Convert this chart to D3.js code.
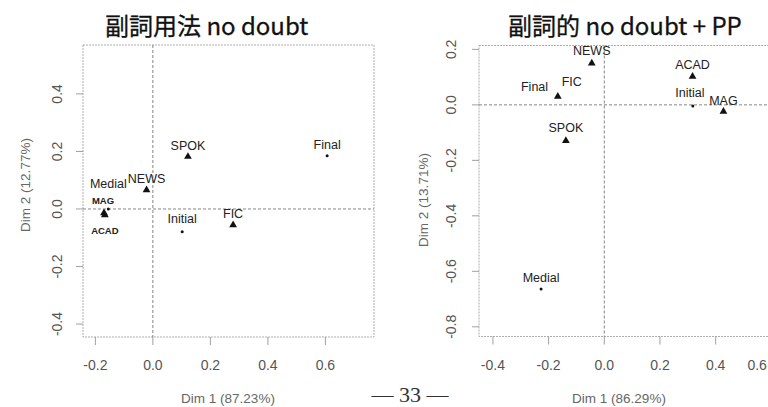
<!DOCTYPE html>
<html>
<head>
<meta charset="utf-8">
<script src="https://cdn.jsdelivr.net/npm/d3@7/dist/d3.min.js"></script>
<style>
  html, body { margin: 0; padding: 0; background: #fff; }
  svg { display: block; }
  .tick-label { font-family: "Liberation Sans", Arial, sans-serif; font-size: 14px; fill: #555; }
  .axis-title { font-family: "Liberation Sans", Arial, sans-serif; font-size: 13.5px; fill: #666; }
  .pt-label { font-family: "Liberation Sans", Arial, sans-serif; font-size: 12.5px; fill: #222; }
  .title { font-family: "Noto Sans CJK JP", "Noto Sans", sans-serif; font-size: 24px; fill: #111; stroke: #111; stroke-width: 0.3px; }
</style>
</head>
<body>
<svg id="chart" width="768" height="407"></svg>
<script>
// ---- Panel A: 副詞用法 no doubt (CA of genre x position) ----
const genresA   = ["SPOK", "NEWS", "FIC", "ACAD", "MAG"];
const genreXA   = [0.122, -0.022, 0.279, -0.167, -0.170];
const genreYA   = [0.182, 0.066, -0.056, -0.021, -0.014];
const posA      = ["Final", "Initial", "Medial"];
const posXA     = [0.606, 0.102, -0.155];
const posYA     = [0.185, -0.079, 0.000];
const inertiaA  = ["87.23%", "12.77%"];
const xTicksA   = [-0.2, 0.0, 0.2, 0.4, 0.6];
const yTicksA   = [-0.4, -0.2, 0.0, 0.2, 0.4];

// ---- Panel B: 副詞的 no doubt + PP ----
const genresB   = ["NEWS", "ACAD", "FIC", "MAG", "SPOK"];
const genreXB   = [-0.045, 0.317, -0.167, 0.428, -0.138];
const genreYB   = [0.150, 0.102, 0.030, -0.024, -0.129];
const posB      = ["Final", "Initial", "Medial"];
const posXB     = [-0.168, 0.318, -0.227];
const posYB     = [0.030, -0.004, -0.664];
const inertiaB  = ["86.29%", "13.71%"];
const xTicksB   = [-0.4, -0.2, 0.0, 0.2, 0.4, 0.6];
const yTicksB   = [-0.8, -0.6, -0.4, -0.2, 0.0, 0.2];

const W = 768;
const svg = d3.select("#chart");
const fmt = d => d3.format(".1f")(d).replace("\u2212", "-");

function drawPanel(cfg) {
  const g = svg.append("g");
  const x = d3.scaleLinear().domain(cfg.xDomain).range([cfg.left, cfg.right]);
  const y = d3.scaleLinear().domain(cfg.yDomain).range([cfg.bottom, cfg.top]);

  // plot frame
  g.append("rect")
    .attr("x", cfg.left).attr("y", cfg.top)
    .attr("width", cfg.right - cfg.left).attr("height", cfg.bottom - cfg.top)
    .attr("fill", "none").attr("stroke", "#999").attr("stroke-width", 0.8)
    .attr("stroke-dasharray", "2,1");

  // zero reference lines
  g.append("line")
    .attr("x1", cfg.left).attr("x2", cfg.right)
    .attr("y1", y(0)).attr("y2", y(0))
    .attr("stroke", "#666").attr("stroke-width", 0.8).attr("stroke-dasharray", "3,2");
  g.append("line")
    .attr("x1", x(0)).attr("x2", x(0))
    .attr("y1", cfg.top).attr("y2", cfg.bottom)
    .attr("stroke", "#666").attr("stroke-width", 0.8).attr("stroke-dasharray", "3,2");

  // x axis ticks
  const xt = g.append("g");
  xt.selectAll("line").data(cfg.xTicks).join("line")
    .attr("x1", d => x(d)).attr("x2", d => x(d))
    .attr("y1", cfg.bottom).attr("y2", cfg.bottom + 8)
    .attr("stroke", "#888").attr("stroke-width", 0.8);
  xt.selectAll("text").data(cfg.xTicks).join("text")
    .attr("class", "tick-label")
    .attr("x", d => x(d)).attr("y", cfg.bottom + 33)
    .attr("text-anchor", "middle")
    .text(fmt)
    .each(function () {
      // keep a label that would run past the page edge inside it
      const b = this.getBBox();
      if (b.x + b.width > W - 1) d3.select(this).attr("x", W - 1 - b.width / 2);
    });

  // y axis ticks (labels run parallel to the axis)
  const yt = g.append("g");
  yt.selectAll("line").data(cfg.yTicks).join("line")
    .attr("x1", cfg.left - 7).attr("x2", cfg.left)
    .attr("y1", d => y(d)).attr("y2", d => y(d))
    .attr("stroke", "#888").attr("stroke-width", 0.8);
  yt.selectAll("text").data(cfg.yTicks).join("text")
    .attr("class", "tick-label")
    .attr("transform", d => `translate(${cfg.left - cfg.yLabelGap},${y(d)}) rotate(-90)`)
    .attr("text-anchor", "middle")
    .text(fmt);

  // axis titles
  g.append("text").attr("class", "axis-title")
    .attr("x", cfg.xTitleX).attr("y", 403)
    .attr("text-anchor", "middle")
    .text(`Dim 1 (${cfg.inertia[0]})`);
  g.append("text").attr("class", "axis-title")
    .attr("transform", `translate(${cfg.yTitleX},${cfg.yTitleY}) rotate(-90)`)
    .attr("text-anchor", "middle")
    .text(`Dim 2 (${cfg.inertia[1]})`);

  // chart title
  g.append("text").attr("class", "title")
    .attr("x", cfg.titleX).attr("y", 35)
    .text(cfg.title);

  // column points (positions) as small dots
  const cols = cfg.pos.map((n, i) => ({ name: n, x: cfg.posX[i], y: cfg.posY[i] }));
  g.selectAll("circle.col").data(cols).join("circle")
    .attr("class", "col")
    .attr("cx", d => x(d.x)).attr("cy", d => y(d.y)).attr("r", 1.5)
    .attr("fill", "#111");

  // row points (genres) as triangles
  const rows = cfg.genres.map((n, i) => ({ name: n, x: cfg.genreX[i], y: cfg.genreY[i] }));
  const tri = d3.symbol().type(d3.symbolTriangle).size(26);
  g.selectAll("path.row").data(rows).join("path")
    .attr("class", "row")
    .attr("d", tri)
    .attr("transform", d => `translate(${x(d.x)},${y(d.y)})`)
    .attr("fill", "#111");

  // point labels, nudged to avoid overlaps
  const all = rows.concat(cols);
  const isBold = d => (cfg.bold || []).includes(d.name);
  g.selectAll("text.pt").data(all).join("text")
    .attr("class", "pt-label pt")
    .attr("x", d => x(d.x) + (cfg.nudge[d.name] || [0, -7])[0])
    .attr("y", d => y(d.y) + (cfg.nudge[d.name] || [0, -7])[1])
    .attr("text-anchor", "middle")
    .style("font-weight", d => isBold(d) ? "bold" : null)
    .style("font-size", d => isBold(d) ? "9.5px" : null)
    .text(d => d.name);
}

drawPanel({
  title: "副詞用法 no doubt",
  titleX: 105,
  genres: genresA, genreX: genreXA, genreY: genreYA,
  pos: posA, posX: posXA, posY: posYA,
  inertia: inertiaA, xTicks: xTicksA, yTicks: yTicksA,
  xDomain: [-0.243, 0.769], yDomain: [-0.445, 0.570],
  left: 83, right: 374, top: 45, bottom: 337,
  yLabelGap: 21, xTitleX: 228, yTitleX: 30, yTitleY: 185,
  bold: ["MAG", "ACAD"],
  nudge: {
    SPOK: [0, -7], Final: [0, -7], NEWS: [0, -7], Initial: [0, -9],
    FIC: [0, -7.5], ACAD: [0, 18.5], MAG: [-1, -9.5], Medial: [0, -20.5]
  }
});

drawPanel({
  title: "副詞的 no doubt + PP",
  titleX: 508,
  genres: genresB, genreX: genreXB, genreY: genreYB,
  pos: posB, posX: posXB, posY: posYB,
  inertia: inertiaB, xTicks: xTicksB, yTicks: yTicksB,
  xDomain: [-0.45, 0.667], yDomain: [-0.835, 0.214],
  left: 479, right: 790, top: 45.5, bottom: 336.5,
  yLabelGap: 23, xTitleX: 619, yTitleX: 428, yTitleY: 200,
  nudge: {
    NEWS: [0, -8], ACAD: [0, -7.5], Final: [-23, -5.5], FIC: [14, -10.5],
    Initial: [-3, -9], MAG: [0, -7], SPOK: [0, -8.5], Medial: [0, -7]
  }
});

// page number
svg.append("text")
  .attr("x", 410).attr("y", 402)
  .attr("text-anchor", "middle")
  .style("font-family", "'Liberation Serif', serif")
  .style("font-size", "22px")
  .style("fill", "#333")
  .text("— 33 —");
</script>
</body>
</html>
